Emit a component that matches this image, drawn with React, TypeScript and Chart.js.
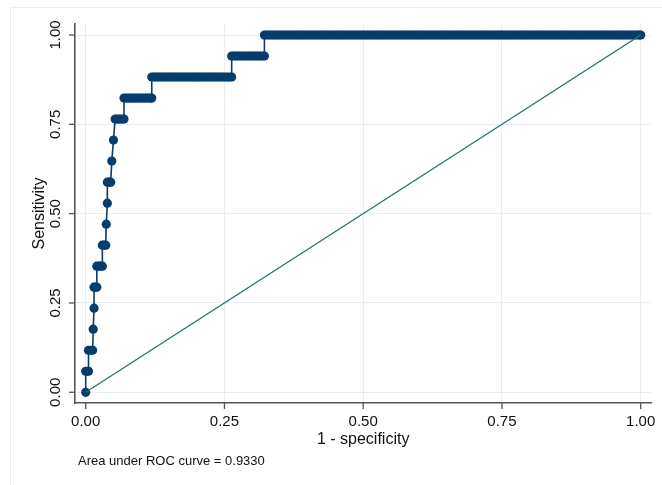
import React, { useEffect, useRef } from "react";
import { Chart, registerables } from "chart.js";

Chart.register(...registerables);

// Sensitivity levels (k/17) and the 1 - specificity values plotted at each level
const sensitivity = [
  0, 0.0588, 0.1176, 0.1765, 0.2353, 0.2941, 0.3529, 0.4118, 0.4706,
  0.5294, 0.5882, 0.6471, 0.7059, 0.7647, 0.8235, 0.8824, 0.9412, 1.0,
];
const fprAtLevel: number[][] = [
  [0],
  [0, 0.0025, 0.005],
  [0.005, 0.009, 0.0125],
  [0.0135],
  [0.015],
  [0.015, 0.0175, 0.02],
  [0.02, 0.0235, 0.027, 0.03],
  [0.03, 0.033, 0.036],
  [0.037],
  [0.039],
  [0.039, 0.042, 0.045],
  [0.047],
  [0.05],
  [0.053, 0.057, 0.061, 0.065, 0.069],
  [0.069, 0.073, 0.077, 0.081, 0.085, 0.089, 0.093, 0.097, 0.101, 0.105,
    0.109, 0.113, 0.117, 0.119],
  [0.119, 0.123, 0.127, 0.131, 0.135, 0.139, 0.143, 0.147, 0.151, 0.155,
    0.159, 0.163, 0.167, 0.171, 0.175, 0.179, 0.183, 0.187, 0.191, 0.195,
    0.199, 0.203, 0.207, 0.211, 0.215, 0.219, 0.223, 0.227, 0.231, 0.235,
    0.239, 0.243, 0.247, 0.251, 0.255, 0.259, 0.263],
  [0.263, 0.267, 0.271, 0.275, 0.279, 0.283, 0.287, 0.291, 0.295, 0.299,
    0.303, 0.307, 0.311, 0.315, 0.319, 0.322],
  [0.322, 0.326, 0.33, 0.334, 0.338, 0.342, 0.346, 0.35, 0.354, 0.358,
    0.362, 0.366, 0.37, 0.374, 0.378, 0.382, 0.386, 0.39, 0.394, 0.398,
    0.402, 0.406, 0.41, 0.414, 0.418, 0.422, 0.426, 0.43, 0.434, 0.438,
    0.442, 0.446, 0.45, 0.454, 0.458, 0.462, 0.466, 0.47, 0.474, 0.478,
    0.482, 0.486, 0.49, 0.494, 0.498, 0.502, 0.506, 0.51, 0.514, 0.518,
    0.522, 0.526, 0.53, 0.534, 0.538, 0.542, 0.546, 0.55, 0.554, 0.558,
    0.562, 0.566, 0.57, 0.574, 0.578, 0.582, 0.586, 0.59, 0.594, 0.598,
    0.602, 0.606, 0.61, 0.614, 0.618, 0.622, 0.626, 0.63, 0.634, 0.638,
    0.642, 0.646, 0.65, 0.654, 0.658, 0.662, 0.666, 0.67, 0.674, 0.678,
    0.682, 0.686, 0.69, 0.694, 0.698, 0.702, 0.706, 0.71, 0.714, 0.718,
    0.722, 0.726, 0.73, 0.734, 0.738, 0.742, 0.746, 0.75, 0.754, 0.758,
    0.762, 0.766, 0.77, 0.774, 0.778, 0.782, 0.786, 0.79, 0.794, 0.798,
    0.802, 0.806, 0.81, 0.814, 0.818, 0.822, 0.826, 0.83, 0.834, 0.838,
    0.842, 0.846, 0.85, 0.854, 0.858, 0.862, 0.866, 0.87, 0.874, 0.878,
    0.882, 0.886, 0.89, 0.894, 0.898, 0.902, 0.906, 0.91, 0.914, 0.918,
    0.922, 0.926, 0.93, 0.934, 0.938, 0.942, 0.946, 0.95, 0.954, 0.958,
    0.962, 0.966, 0.97, 0.974, 0.978, 0.982, 0.986, 0.99, 0.994, 0.998, 1.0],
];
const refLineX = [0, 1];
const refLineY = [0, 1];
const xTicks = [0, 0.25, 0.5, 0.75, 1];
const yTicks = [0, 0.25, 0.5, 0.75, 1];
const xTickLabels = ["0.00", "0.25", "0.50", "0.75", "1.00"];
const yTickLabels = ["0.00", "0.25", "0.50", "0.75", "1.00"];
const xTitle = "1 - specificity";
const yTitle = "Sensitivity";
const note = "Area under ROC curve = 0.9330";

const NAVY = "#073d6d";
const TEAL = "#23736e";
const AXIS = "#555555";
const GRID = "#e6eef3";
const FONT = '"Liberation Sans", Arial, Helvetica, sans-serif';

const decor = {
  id: "decor",
  beforeDraw(chart: any) {
    const ctx = chart.ctx;
    ctx.save();
    ctx.fillStyle = "#ffffff";
    ctx.fillRect(0, 0, chart.width, chart.height);
    ctx.strokeStyle = "#ededed";
    ctx.lineWidth = 1;
    ctx.beginPath();
    ctx.moveTo(10.5, chart.height);
    ctx.lineTo(10.5, 7.5);
    ctx.lineTo(chart.width, 7.5);
    ctx.stroke();
    ctx.restore();
  },
  afterDraw(chart: any) {
    const ctx = chart.ctx;
    const xs = chart.scales.x;
    const ys = chart.scales.y;
    const area = chart.chartArea;
    ctx.save();
    ctx.strokeStyle = AXIS;
    ctx.lineWidth = 1.3;
    ctx.fillStyle = "#111111";
    // x ticks + labels
    ctx.font = `15px ${FONT}`;
    ctx.textAlign = "center";
    ctx.textBaseline = "alphabetic";
    xTicks.forEach((v, i) => {
      const px = xs.getPixelForValue(v);
      ctx.beginPath();
      ctx.moveTo(px, area.bottom);
      ctx.lineTo(px, area.bottom + 6);
      ctx.stroke();
      ctx.fillText(xTickLabels[i], px, area.bottom + 23);
    });
    // y ticks + labels (rotated)
    yTicks.forEach((v, i) => {
      const py = ys.getPixelForValue(v);
      ctx.beginPath();
      ctx.moveTo(area.left - 6, py);
      ctx.lineTo(area.left, py);
      ctx.stroke();
      ctx.save();
      ctx.translate(area.left - 15, py);
      ctx.rotate(-Math.PI / 2);
      ctx.fillText(yTickLabels[i], 0, 0);
      ctx.restore();
    });
    // axis titles
    ctx.font = `16px ${FONT}`;
    const cx = (xs.getPixelForValue(0) + xs.getPixelForValue(1)) / 2;
    ctx.fillText(xTitle, cx, area.bottom + 41);
    ctx.save();
    ctx.translate(area.left - 31, (area.top + area.bottom) / 2);
    ctx.rotate(-Math.PI / 2);
    ctx.fillText(yTitle, 0, 0);
    ctx.restore();
    // note
    ctx.font = `13px ${FONT}`;
    ctx.textAlign = "left";
    ctx.fillText(note, 78, area.bottom + 62);
    ctx.restore();
  },
};

export default function App() {
  const ref = useRef<HTMLCanvasElement | null>(null);
  useEffect(() => {
    if (!ref.current) return;
    const rocPoints: { x: number; y: number }[] = [];
    sensitivity.forEach((s, i) => {
      fprAtLevel[i].forEach((f) => rocPoints.push({ x: f, y: s }));
    });
    const refPoints = refLineX.map((x, i) => ({ x, y: refLineY[i] }));
    const chart = new Chart(ref.current, {
      type: "scatter",
      data: {
        datasets: [
          {
            label: "Reference",
            data: refPoints,
            showLine: true,
            borderColor: TEAL,
            borderWidth: 1.3,
            pointRadius: 0,
            order: 0,
          },
          {
            label: "ROC",
            data: rocPoints,
            showLine: true,
            borderColor: NAVY,
            borderWidth: 1.6,
            pointRadius: 4.6,
            pointBackgroundColor: NAVY,
            pointBorderWidth: 0,
            order: 1,
          },
        ],
      },
      options: {
        responsive: false,
        animation: false,
        layout: { padding: { left: 75, right: 11, top: 24, bottom: 82 } },
        plugins: { legend: { display: false }, tooltip: { enabled: false } },
        scales: {
          x: {
            type: "linear",
            min: -0.0193,
            max: 1.0186,
            afterBuildTicks: (axis: any) => {
              axis.ticks = xTicks.map((v) => ({ value: v }));
            },
            ticks: { display: false },
            grid: { color: GRID, lineWidth: 1, drawTicks: false },
            border: { display: true, color: AXIS, width: 1.6 },
          },
          y: {
            type: "linear",
            min: -0.030,
            max: 1.0308,
            afterBuildTicks: (axis: any) => {
              axis.ticks = yTicks.map((v) => ({ value: v }));
            },
            ticks: { display: false },
            grid: { color: GRID, lineWidth: 1, drawTicks: false },
            border: { display: true, color: AXIS, width: 1.6 },
          },
        },
      },
      plugins: [decor],
    });
    return () => chart.destroy();
  }, []);
  return (
    <div style={{ position: "absolute", left: 0, top: 0, width: 662, height: 485 }}>
      <canvas ref={ref} width={662} height={485} />
    </div>
  );
}
